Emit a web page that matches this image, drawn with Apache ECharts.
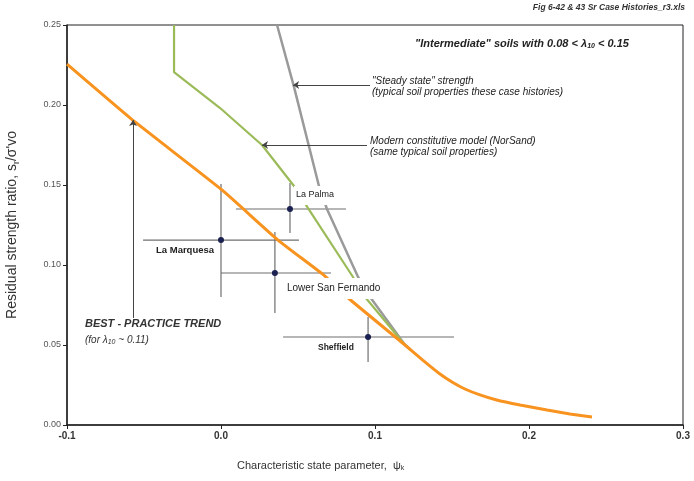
<!DOCTYPE html>
<html><head><meta charset="utf-8">
<script src="https://cdn.jsdelivr.net/npm/echarts@6/dist/echarts.min.js"></script>
<style>html,body{margin:0;padding:0;background:#fff}#c{width:694px;height:481px}</style>
</head><body><div id="c"></div>
<script>
// Best-practice trend (orange)
const psiTrend = [-0.1, -0.0558, 0.0006, 0.037, 0.0675, 0.0818, 0.1195, 0.131, 0.1422, 0.150, 0.1584, 0.1682, 0.179, 0.1942, 0.2117, 0.2266, 0.2409];
const srTrend  = [0.2256, 0.1894, 0.1469, 0.1156, 0.0931, 0.080, 0.050, 0.0406, 0.0319, 0.0269, 0.0225, 0.0188, 0.0156, 0.0125, 0.0094, 0.0069, 0.005];
// Modern constitutive model (NorSand) (green)
const psiModel = [-0.0305, -0.0305, -0.0006, 0.0266, 0.0474, 0.0565, 0.0857, 0.0935, 0.1195, 0.123];
const srModel  = [0.25, 0.2206, 0.1981, 0.175, 0.1494, 0.1356, 0.0925, 0.080, 0.050, 0.0471];
// Steady state strength (grey)
const psiSteady = [0.0364, 0.0474, 0.0636, 0.0688, 0.089, 0.0968, 0.1195, 0.123];
const srSteady  = [0.25, 0.2113, 0.1494, 0.135, 0.0925, 0.080, 0.050, 0.0471];
// Case histories with ranges
const caseNames = ['La Palma', 'La Marquesa', 'Lower San Fernando', 'Sheffield'];
const casePsi   = [0.0448, 0.0, 0.035, 0.0955];
const caseSr    = [0.135, 0.1156, 0.095, 0.055];
const casePsiLo = [0.0097, -0.0506, 0.0, 0.0403];
const casePsiHi = [0.0812, 0.0506, 0.0714, 0.1513];
const caseSrLo  = [0.120, 0.080, 0.070, 0.0394];
const caseSrHi  = [0.1513, 0.1506, 0.1206, 0.0675];
// Tick labels
const xTicks = [-0.1, 0.0, 0.1, 0.2, 0.3];
const yTicks = [0.00, 0.05, 0.10, 0.15, 0.20, 0.25];
// Annotation arrows [psiFrom, srFrom, psiTo, srTo]
const arrowSteady = [0.0968, 0.2125, 0.0468, 0.2125];
const arrowModel  = [0.0948, 0.175, 0.0266, 0.175];
const arrowTrend  = [-0.0571, 0.0669, -0.0571, 0.1906];

const zip = (a, b) => a.map((v, i) => [v, b[i]]);
const caseData = caseNames.map((n, i) => [casePsi[i], caseSr[i], casePsiLo[i], casePsiHi[i], caseSrLo[i], caseSrHi[i]]);
const F = 'Liberation Sans, Arial, sans-serif';

const chart = echarts.init(document.getElementById('c'), null, {renderer: 'canvas'});
chart.setOption({
  animation: false,
  backgroundColor: '#fff',
  grid: {left: 67, right: 11, top: 25, bottom: 56, show: true, borderColor: '#222', borderWidth: 1, containLabel: false, outerBoundsMode: 'none'},
  xAxis: {
    type: 'value', min: -0.1, max: 0.3, interval: 0.1,
    axisLine: {show: true, onZero: false, lineStyle: {color: '#222', width: 1.5}},
    axisTick: {show: true, length: 4, lineStyle: {color: '#222'}},
    splitLine: {show: false},
    axisLabel: {color: '#333', fontFamily: F, fontSize: 10, fontWeight: 'bold', margin: 6,
      formatter: v => { const t = xTicks.find(x => Math.abs(x - v) < 1e-9); return t === undefined ? '' : t.toFixed(1); }}
  },
  yAxis: {
    type: 'value', min: 0, max: 0.25, interval: 0.05,
    axisLine: {show: true, onZero: false, lineStyle: {color: '#222', width: 1.5}},
    axisTick: {show: true, length: 4, lineStyle: {color: '#222'}},
    splitLine: {show: false},
    axisLabel: {color: '#555', fontFamily: F, fontSize: 9, margin: 6,
      formatter: v => { const t = yTicks.find(y => Math.abs(y - v) < 1e-9); return t === undefined ? '' : t.toFixed(2); }},
    name: '{a|Residual strength ratio, s}{s|r}{a|/σ\'vo}', nameLocation: 'middle', nameGap: 46,
    nameTextStyle: {rich: {a: {fontFamily: F, fontSize: 14, color: '#333'}, s: {fontFamily: F, fontSize: 9, color: '#333', padding: [8, 0, 0, 0]}}}
  },
  series: [
    {
      type: 'custom', z: 1, data: caseData,
      renderItem: (params, api) => {
        const c = api.coord([api.value(0), api.value(1)]);
        const xl = api.coord([api.value(2), api.value(1)]);
        const xh = api.coord([api.value(3), api.value(1)]);
        const yl = api.coord([api.value(0), api.value(4)]);
        const yh = api.coord([api.value(0), api.value(5)]);
        const st = {stroke: '#6f6f6f', lineWidth: 1.2};
        return {type: 'group', children: [
          {type: 'line', shape: {x1: xl[0], y1: xl[1], x2: xh[0], y2: xh[1]}, style: st},
          {type: 'line', shape: {x1: yl[0], y1: yl[1], x2: yh[0], y2: yh[1]}, style: st},
          {type: 'circle', shape: {cx: c[0], cy: c[1], r: 3}, style: {fill: '#1a2050'}}
        ]};
      }
    },
    {type: 'line', z: 3, data: zip(psiSteady, srSteady), showSymbol: false, smooth: false,
      lineStyle: {color: '#9a9a9a', width: 2.5}},
    {type: 'line', z: 3, data: zip(psiModel, srModel), showSymbol: false, smooth: false,
      lineStyle: {color: '#9bbb59', width: 2.2}},
    {type: 'line', z: 4, data: zip(psiTrend, srTrend), showSymbol: false, smooth: 0.15,
      lineStyle: {color: '#f7931e', width: 3}},
    {type: 'lines', coordinateSystem: 'cartesian2d', z: 5, symbol: ['none', 'arrow'], symbolSize: 6,
      lineStyle: {color: '#444', width: 1, opacity: 1},
      data: [arrowSteady, arrowModel, arrowTrend].map(a => ({coords: [[a[0], a[1]], [a[2], a[3]]]}))}
  ],
  graphic: [
    {type: 'text', right: 9, top: 3, z: 10, style: {text: 'Fig 6-42 & 43 Sr Case Histories_r3.xls', font: 'italic bold 8.5px ' + F, fill: '#333'}},
    {type: 'text', left: 415, top: 38, z: 10, style: {
      text: '{a|"Intermediate" soils with 0.08 < λ}{s|10}{a| < 0.15}',
      rich: {a: {font: 'italic bold 11px ' + F, fill: '#222'}, s: {font: 'italic bold 7px ' + F, fill: '#222', padding: [6, 0, 0, 0]}}}},
    {type: 'text', left: 372, top: 76, z: 10, style: {text: '"Steady state" strength\n(typical soil properties these case histories)', font: 'italic 10px ' + F, fill: '#222', lineHeight: 11}},
    {type: 'text', left: 370, top: 136, z: 10, style: {text: 'Modern constitutive model (NorSand)\n(same typical soil properties)', font: 'italic 10px ' + F, fill: '#222', lineHeight: 11}},
    {type: 'text', left: 85, top: 318, z: 10, style: {text: 'BEST - PRACTICE TREND', font: 'italic bold 11px ' + F, fill: '#333'}},
    {type: 'text', left: 85, top: 335, z: 10, style: {
      text: '{a|(for λ}{s|10}{a| ~ 0.11)}',
      rich: {a: {font: 'italic 10px ' + F, fill: '#333'}, s: {font: 'italic 7px ' + F, fill: '#333', padding: [5, 0, 0, 0]}}}},
    {type: 'text', left: 294, top: 186, z: 10, style: {text: 'La Palma', font: '9px ' + F, fill: '#222', backgroundColor: '#fff', padding: [4, 2, 6, 2]}},
    {type: 'text', left: 156, top: 245, z: 10, style: {text: 'La Marquesa', font: 'bold 9.5px ' + F, fill: '#222'}},
    {type: 'text', left: 285, top: 278, z: 10, style: {text: 'Lower San Fernando', font: '10px ' + F, fill: '#222', backgroundColor: '#fff', padding: [5, 2, 6, 2]}},
    {type: 'text', left: 318, top: 343, z: 10, style: {text: 'Sheffield', font: 'bold 8.5px ' + F, fill: '#222'}},
    {type: 'text', left: 237, top: 460, z: 10, style: {
      text: '{a|Characteristic state parameter,  ψ}{s|k}',
      rich: {a: {font: '11px ' + F, fill: '#333'}, s: {font: '7px ' + F, fill: '#333', padding: [6, 0, 0, 0]}}}}
  ]
});
</script></body></html>
